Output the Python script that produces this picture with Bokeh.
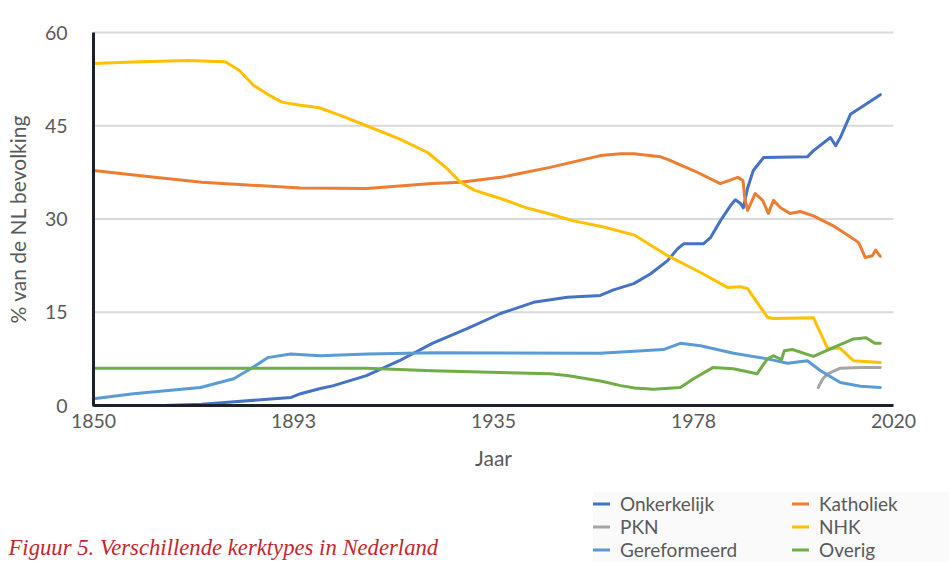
from bokeh.plotting import figure
from bokeh.models import Range1d, FixedTicker, Legend, LegendItem, Label
from bokeh.embed import file_html
from bokeh.resources import INLINE

# ---------------- data ----------------
onk_years = [1850, 1865, 1873, 1880, 1892, 1894, 1898, 1901, 1908, 1915, 1922, 1929.5, 1936.5,
             1943.5, 1950.7, 1957.7, 1960.5, 1964.8, 1968.4, 1972, 1974.1, 1975.4, 1979.6,
             1981.1, 1983.2, 1985.4, 1986.4, 1987.5, 1988.1, 1989, 1990.2, 1992.4, 2001.7,
             2003, 2006.6, 2007.7, 2008.7, 2010.9, 2013, 2017.2]
onk_vals = [0.0, 0.0, 0.2, 0.6, 1.3, 1.9, 2.7, 3.2, 4.8, 7.2, 10.0, 12.4, 14.8,
            16.6, 17.4, 17.7, 18.6, 19.6, 21.2, 23.3, 25.2, 26.0, 26.0,
            27.0, 29.7, 32.2, 33.1, 32.5, 31.8, 35.0, 37.8, 39.9, 40.0,
            41.0, 43.1, 41.8, 43.1, 46.9, 47.9, 50.0]

kat_years = [1850, 1862, 1873, 1894, 1908, 1922, 1928, 1936.5, 1947, 1957.7, 1962, 1964.8,
             1970.5, 1972, 1977.5, 1983.2, 1986.9, 1988, 1988.4, 1989, 1990.6, 1992.2,
             1993.4, 1994.5, 1996, 1998, 2000.2, 2003, 2007.2, 2011.5, 2012.6, 2014,
             2015.5, 2016.2, 2017.2]
kat_vals = [37.8, 36.8, 35.9, 35.0, 34.9, 35.7, 35.9, 36.7, 38.3, 40.2, 40.5, 40.5,
            40.0, 39.6, 37.8, 35.7, 36.7, 36.2, 33.4, 31.4, 34.1, 33.0,
            30.9, 33.0, 31.8, 30.9, 31.2, 30.5, 28.9, 26.8, 26.2, 23.8,
            24.1, 25.0, 24.0]

pkn_years = [2004, 2005, 2006, 2008.7, 2013, 2017.2]
pkn_vals = [2.9, 4.3, 5.1, 6.0, 6.1, 6.1]

nhk_years = [1850, 1860, 1870, 1878, 1881, 1884, 1887.6, 1890, 1894, 1898, 1903, 1908,
             1915, 1921, 1925, 1928, 1931, 1936.5, 1942, 1947, 1952, 1958, 1965, 1972,
             1979, 1984.7, 1987.5, 1989, 1993.2, 1994.5, 2003, 2006, 2008.7, 2011.5, 2017.2]
nhk_vals = [55.0, 55.3, 55.5, 55.3, 53.9, 51.5, 49.8, 48.8, 48.3, 47.9, 46.5, 45.0,
            42.9, 40.7, 38.2, 35.9, 34.6, 33.3, 31.8, 30.8, 29.7, 28.8, 27.4, 24.1,
            21.4, 19.0, 19.1, 18.8, 14.2, 14.0, 14.1, 9.2, 9.2, 7.2, 6.9]

ger_years = [1850, 1858.5, 1872.7, 1879.8, 1883.4, 1887, 1891.9, 1898.2, 1908.2, 1922.3,
             1957.7, 1971.1, 1974.7, 1979, 1986, 1993.2, 1997.5, 2001.7, 2004.5, 2008.7,
             2013, 2017.2]
ger_vals = [1.1, 1.9, 2.9, 4.3, 5.9, 7.7, 8.3, 8.0, 8.3, 8.5,
            8.4, 9.0, 10.0, 9.6, 8.4, 7.5, 6.8, 7.2, 5.6, 3.7,
            3.1, 2.9]

ove_years = [1850, 1894, 1908, 1922, 1936.5, 1947, 1951, 1958, 1962, 1965, 1969, 1974.7,
             1977.5, 1981.6, 1986, 1991, 1993.2, 1994.5, 1996.2, 1996.8, 1998.5, 2003,
             2007.2, 2011.5, 2014.2, 2016, 2017.2]
ove_vals = [6.0, 6.0, 6.0, 5.6, 5.3, 5.1, 4.8, 3.9, 3.2, 2.8, 2.6, 2.9,
            4.3, 6.1, 5.9, 5.1, 7.5, 8.0, 7.4, 8.8, 9.0, 7.9,
            9.3, 10.7, 10.9, 10.0, 10.0]

x_min, x_max = 1850, 2020
y_min, y_max = 0, 60
x_tick_values = [1850, 1892.5, 1935, 1977.5, 2020]
x_tick_labels = ["1850", "1893", "1935", "1978", "2020"]
y_tick_values = [0, 15, 30, 45, 60]

series = [
    ("Onkerkelijk", onk_years, onk_vals, "#4472C4"),
    ("Katholiek", kat_years, kat_vals, "#ED7D31"),
    ("PKN", pkn_years, pkn_vals, "#A5A5A5"),
    ("NHK", nhk_years, nhk_vals, "#FFC000"),
    ("Gereformeerd", ger_years, ger_vals, "#5B9BD5"),
    ("Overig", ove_years, ove_vals, "#70AD47"),
]
legend_order = ["Onkerkelijk", "PKN", "Gereformeerd", "Katholiek", "NHK", "Overig"]

# ---------------- layout (pixels) ----------------
W, H = 949, 564
PLOT_L, PLOT_R, PLOT_T, PLOT_B = 93, 893, 32, 405     # plot area inside the canvas
FONT = "Lato"
GREY = "#595959"

# the frame covers the whole canvas; the ranges are widened so that the
# plot area maps onto PLOT_L..PLOT_R / PLOT_T..PLOT_B
xpx = (PLOT_R - PLOT_L) / (x_max - x_min)
ypx = (PLOT_B - PLOT_T) / (y_max - y_min)
x_range = Range1d(x_min - PLOT_L / xpx, x_max + (W - PLOT_R) / xpx)
y_range = Range1d(y_min - (H - PLOT_B) / ypx, y_max + PLOT_T / ypx)

p = figure(width=W, height=H, output_backend="svg", toolbar_location=None,
           x_range=x_range, y_range=y_range, min_border=0,
           min_border_left=0, min_border_right=0, min_border_top=0, min_border_bottom=0,
           background_fill_color="white", border_fill_color="white")
p.outline_line_color = None
p.grid.visible = False

# horizontal gridlines from the y tick values
p.segment(x0=[x_min] * len(y_tick_values), x1=[x_max] * len(y_tick_values),
          y0=y_tick_values, y1=y_tick_values, line_color="#d9d9d9", line_width=2)

renderers = {}
for name, xs, ys, col in series:
    renderers[name] = p.line(xs, ys, line_color=col, line_width=3,
                             line_join="round", line_cap="round")

# axes drawn at the data origin
p.xaxis.fixed_location = y_min
p.yaxis.fixed_location = x_min
p.xaxis.bounds = (x_min, x_max)
p.yaxis.bounds = (y_min, y_max)
p.xaxis.ticker = FixedTicker(ticks=x_tick_values)
p.xaxis.major_label_overrides = {v: l for v, l in zip(x_tick_values, x_tick_labels)}
p.yaxis.ticker = FixedTicker(ticks=y_tick_values)
for ax in (p.xaxis, p.yaxis):
    ax.axis_line_color = "#1c2129"
    ax.axis_line_width = 3
    ax.major_tick_line_color = None
    ax.minor_tick_line_color = None
    ax.major_tick_out = 0
    ax.major_tick_in = 0
    ax.major_label_text_font = FONT
    ax.major_label_text_font_size = "19.5px"
    ax.major_label_text_color = GREY
    ax.axis_label_text_font = FONT
    ax.axis_label_text_font_size = "21px"
    ax.axis_label_text_font_style = "normal"
    ax.axis_label_text_color = GREY
p.xaxis.axis_label = "Jaar"
p.yaxis.axis_label = "% van de NL bevolking"
p.xaxis.major_label_standoff = 8
p.xaxis.axis_label_standoff = 14
p.yaxis.major_label_standoff = 26
p.yaxis.axis_label_standoff = 12

legend = Legend(items=[LegendItem(label=n, renderers=[renderers[n]]) for n in legend_order],
                location=(593, 3), orientation="vertical", nrows=3,
                padding=25, spacing=0, margin=0,
                glyph_width=17, glyph_height=23, label_height=23, label_width=172,
                label_standoff=10,
                background_fill_color="#fafafa", background_fill_alpha=1.0,
                border_line_color=None,
                label_text_font=FONT, label_text_font_size="19px",
                label_text_color=GREY)
p.add_layout(legend, "center")

caption = Label(x=8, y=17, x_units="screen", y_units="screen",
                text="Figuur 5. Verschillende kerktypes in Nederland",
                text_font="Liberation Serif", text_font_style="italic",
                text_font_size="22.7px", text_color="#c4262e",
                text_baseline="alphabetic", text_align="left")
p.add_layout(caption)

open("out.html", "w").write(file_html(p, INLINE))
